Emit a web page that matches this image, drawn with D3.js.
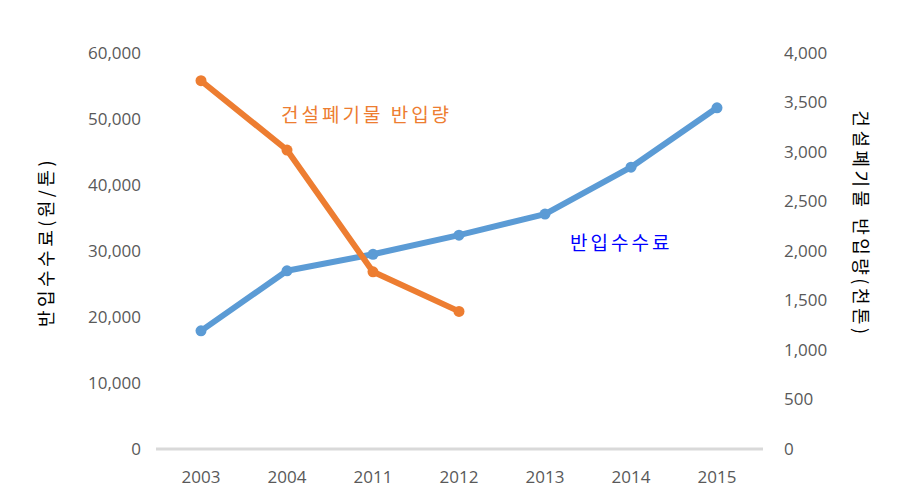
<!DOCTYPE html>
<html><head><meta charset="utf-8">
<script src="https://cdn.jsdelivr.net/npm/d3@7"></script>
<style>body{margin:0;background:#fff}svg{display:block}</style>
</head><body>
<script>
const categories = ["2003","2004","2011","2012","2013","2014","2015"];
const feeValues = [17900, 27000, 29500, 32400, 35600, 42700, 51700];
const volumeValues = [3720, 3020, 1790, 1390, null, null, null];
const leftTicks = [0,10000,20000,30000,40000,50000,60000];
const rightTicks = [0,500,1000,1500,2000,2500,3000,3500,4000];

const W=917,H=498;
const svg=d3.select("body").append("svg").attr("width",W).attr("height",H);
const plotTop=53,plotBottom=449,plotLeft=158,plotRight=760;
const x=d3.scalePoint().domain(categories).range([plotLeft,plotRight]).padding(0.5);
const yL=d3.scaleLinear().domain([0,60000]).range([plotBottom,plotTop]);
const yR=d3.scaleLinear().domain([0,4000]).range([plotBottom,plotTop]);
const tickFont="'Open Sans','Liberation Sans',sans-serif";
const fmt=d3.format(",");

svg.append("g").selectAll("text").data(leftTicks).join("text")
 .attr("x",141).attr("y",d=>yL(d)).attr("dy","0.35em").attr("text-anchor","end")
 .attr("font-family",tickFont).attr("font-size",17).attr("fill","#595959").text(d=>fmt(d));
svg.append("g").selectAll("text").data(rightTicks).join("text")
 .attr("x",784).attr("y",d=>yR(d)).attr("dy","0.35em").attr("text-anchor","start")
 .attr("font-family",tickFont).attr("font-size",17).attr("fill","#595959").text(d=>fmt(d));
svg.append("line").attr("x1",156).attr("x2",763).attr("y1",plotBottom).attr("y2",plotBottom)
 .attr("stroke","#d9d9d9").attr("stroke-width",3);
svg.append("g").selectAll("text").data(categories).join("text")
 .attr("x",d=>x(d)).attr("y",477).attr("dy","0.35em").attr("text-anchor","middle")
 .attr("font-family",tickFont).attr("font-size",17).attr("fill","#595959").text(d=>d);

const kfont="'Noto Sans CJK KR',sans-serif";
svg.append("text").attr("transform","translate(47,242) rotate(-90)").attr("text-anchor","middle")
 .attr("dy","0.35em").attr("font-family",kfont).attr("font-size",18).attr("letter-spacing",3.5).attr("fill","#000").text("반입수수료(원/톤)");
svg.append("text").attr("transform","translate(860,224) rotate(90)").attr("text-anchor","middle")
 .attr("dy","0.35em").attr("font-family",kfont).attr("font-size",18).attr("letter-spacing",3.5).attr("fill","#000").text("건설폐기물 반입량(천톤)");

const feeData=categories.map((c,i)=>({c,v:feeValues[i]}));
const volData=categories.map((c,i)=>({c,v:volumeValues[i]})).filter(d=>d.v!=null);
const lineL=d3.line().x(d=>x(d.c)).y(d=>yL(d.v));
const lineR=d3.line().x(d=>x(d.c)).y(d=>yR(d.v));
svg.append("path").datum(feeData).attr("d",lineL).attr("fill","none").attr("stroke","#5b9bd5").attr("stroke-width",6).attr("stroke-linejoin","round");
svg.append("g").selectAll("circle").data(feeData).join("circle").attr("cx",d=>x(d.c)).attr("cy",d=>yL(d.v)).attr("r",5.5).attr("fill","#5b9bd5");
svg.append("path").datum(volData).attr("d",lineR).attr("fill","none").attr("stroke","#ed7d31").attr("stroke-width",6).attr("stroke-linejoin","round");
svg.append("g").selectAll("circle").data(volData).join("circle").attr("cx",d=>x(d.c)).attr("cy",d=>yR(d.v)).attr("r",5.5).attr("fill","#ed7d31");

svg.append("text").attr("x",281).attr("y",115).attr("dy","0.35em").attr("font-family",kfont).attr("font-size",19).attr("letter-spacing",3).attr("fill","#ed7d31").text("건설폐기물 반입량");
svg.append("text").attr("x",570).attr("y",243).attr("dy","0.35em").attr("font-family",kfont).attr("font-size",19).attr("letter-spacing",3).attr("fill","#0000ff").text("반입수수료");
</script>
</body></html>
